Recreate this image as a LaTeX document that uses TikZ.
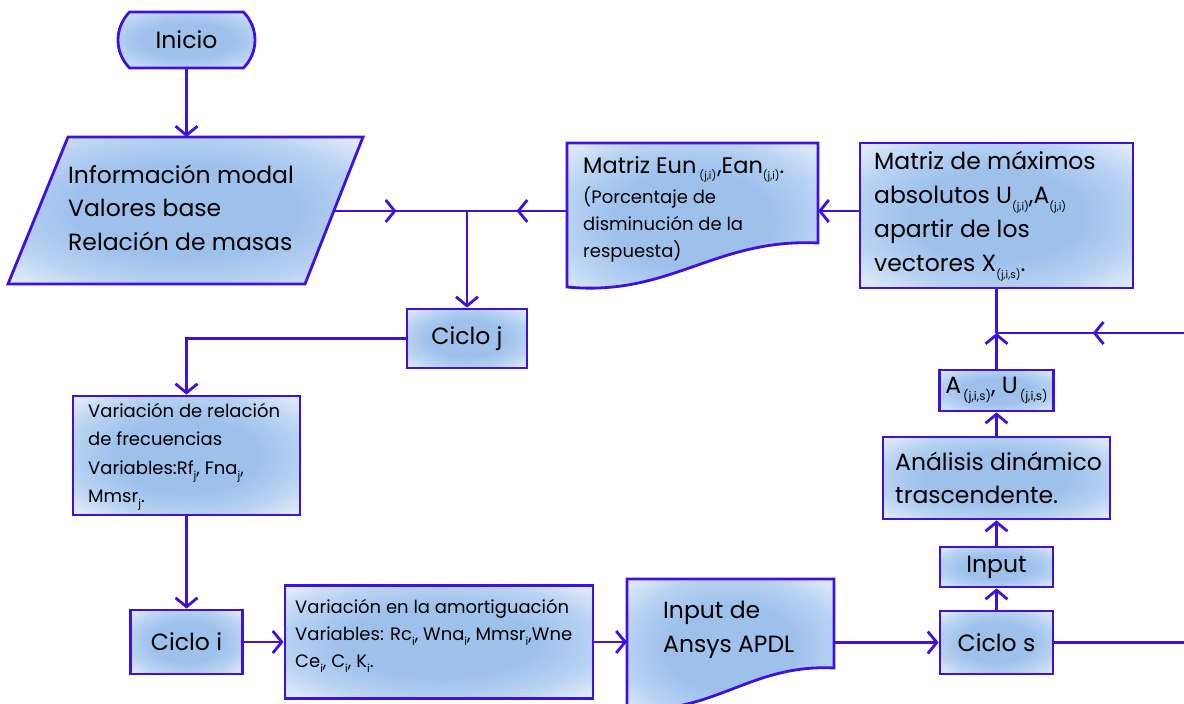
\documentclass[tikz,border=0pt]{standalone}
\usepackage{fontspec}
\setmainfont{Poppins}
\usetikzlibrary{arrows.meta,shapes.misc,decorations.markings}
\definecolor{lc}{RGB}{64,16,224}
\definecolor{fin}{RGB}{158,193,236}
\definecolor{fmid}{RGB}{186,211,243}
\definecolor{fout}{RGB}{238,244,252}
\pgfdeclareradialshading{boxsh}{\pgfpoint{0bp}{0bp}}{color(0bp)=(fin); color(16bp)=(fin); color(26bp)=(fmid); color(37bp)=(fout); color(50bp)=(fout)}
\newcommand{\sbx}[2][10.5]{\raisebox{-0.3em}{\fontsize{#1}{#1}\selectfont #2}}
\newcommand{\fs}[2]{\fontsize{#1}{#2}\selectfont}
\begin{document}
\begin{tikzpicture}[x=1pt,y=-1pt,
  shp/.style={draw=lc, line width=2.8pt, shade, shading=boxsh},
  boxn/.style={shp, rectangle, inner sep=0pt},
  conn/.style={draw=lc, line width=2.8pt},
  >={Straight Barb[length=9pt,width=22pt]},
  midarrow/.style={postaction={decorate,decoration={markings,mark=at position #1 with {\arrow{>}}}}},
  big/.style={font=\fs{23.5}{33.5}},
  small/.style={font=\fs{18}{28.5}},
  txt/.style={anchor=base west, align=left, inner sep=0pt}]
\fill[white] (0,0) rectangle (1184,704);
\clip (0,0) rectangle (1184,704);

% ---- shapes ----
\node[shp, rounded rectangle, rounded rectangle arc length=90, minimum width=137pt, minimum height=56pt, inner sep=0pt, big] (inicio) at (186.5,40) {Inicio};

\path[shp] (68,137) -- (363,137) -- (305,284) -- (8,284) -- cycle;
\coordinate (paraN) at (186.5,137);
\coordinate (paraE) at (334,211);
% anchor base = baseline of the last line
\node[txt, big] (paratxt) at (68,250) {Información modal\\Valores base\\Relación de masas};

\path[shp] (567,143) -- (818,143) -- (818,243) .. controls (715,238) and (670,297) .. (567,287) -- cycle;
\coordinate (eunW) at (567,211);
\coordinate (eunE) at (818,211);
\node[txt, font=\fs{22.5}{27}] (eunA) at (583,173) {Matriz Eun\kern3pt\sbx{(j,i)}\kern1pt,Ean\sbx{(j,i)}.};
\node[txt, font=\fs{18}{27}] (eunB) at (583,257) {(Porcentaje de\\disminución de la\\respuesta)};

\node[boxn, minimum width=273pt, minimum height=145pt] (mx) at (996.5,215.5) {};
\node[txt, font=\fs{23.5}{34}] (mxtxt) at (874,271) {Matriz de máximos\\absolutos U\sbx{(j,i)},A\sbx{(j,i)}\\apartir de los\\vectores X\sbx{(j,i,s)}.};

\coordinate (j1) at (467,211);
\coordinate (j2) at (996.5,333);
\coordinate (edgeL) at (1184,333);
\coordinate (edgeS) at (1184,642.5);

\node[boxn, minimum width=120pt, minimum height=59pt, big] (cj) at (467,338.5) {Ciclo j};

\node[boxn, minimum width=227pt, minimum height=119pt] (vr) at (186.5,455.5) {};
\node[txt, small] (vrtxt) at (88,502.5) {Variación de relación\\de frecuencias\\Variables:Rf\sbx[11]{j}, Fna\sbx[11]{j},\\Mmsr\sbx[11]{j}.};

\node[boxn, minimum width=112pt, minimum height=64pt, big] (ci) at (186.5,642) {Ciclo i};

\node[boxn, minimum width=308pt, minimum height=113pt] (va) at (439,642) {};
\node[txt, font=\fs{18}{27}] (vatxt) at (295,667) {Variación en la amortiguación\\Variables: Rc\sbx[11]{i}, Wna\sbx[11]{i}, Mmsr\sbx[11]{i},Wne\\Ce\sbx[11]{i}, C\sbx[11]{i}, K\sbx[11]{i}.};

\path[shp] (627,579) -- (834,579) -- (834,668) .. controls (749,663.5) and (712,717) .. (627,708) -- cycle;
\coordinate (apdlW) at (627,642);
\coordinate (apdlE) at (834,642.5);
\node[txt, font=\fs{23.5}{34}] (apdltxt) at (663,652) {Input de\\Ansys APDL};

\node[boxn, minimum width=113pt, minimum height=63pt, big] (cs) at (996.5,642.5) {Ciclo s};
\node[boxn, minimum width=113pt, minimum height=40pt, big] (inp) at (996.5,567) {Input};
\node[boxn, minimum width=227pt, minimum height=82pt] (an) at (996.5,478) {};
\node[txt, font=\fs{23.5}{33}] (antxt) at (895,503) {Análisis dinámico\\trascendente.};
\node[boxn, minimum width=114pt, minimum height=41pt, big] (au) at (996.5,390.5) {A\kern2pt\sbx[12]{(j,i,s)}, U\kern2pt\sbx[12]{(j,i,s)}};

% ---- connectors ----
\draw[conn,->] (inicio.south) -- (paraN);
\draw[conn, midarrow=0.47] (paraE) -- (j1);
\draw[conn, midarrow=0.505] (eunW) -- (j1);
\draw[conn,->] (j1) -- (cj.north);
\draw[conn,->] (mx.west |- eunE) -- (eunE);
\draw[conn,->] (cj.west) -| (vr.north);
\draw[conn,->] (vr.south) -- (ci.north);
\draw[conn,->] (ci.east) -- (va.west);
\draw[conn,->] (va.east) -- (apdlW);
\draw[conn,->] (apdlE) -- (cs.west);
\draw[conn] (cs.east) -- (edgeS);
\draw[conn,->] (cs.north) -- (inp.south);
\draw[conn,->] (inp.north) -- (an.south);
\draw[conn,->] (an.north) -- (au.south);
\draw[conn,->] (au.north) -- (j2);
\draw[conn] (j2) -- (mx.south);
\draw[conn, midarrow=0.487] (edgeL) -- (j2);
\end{tikzpicture}
\end{document}
